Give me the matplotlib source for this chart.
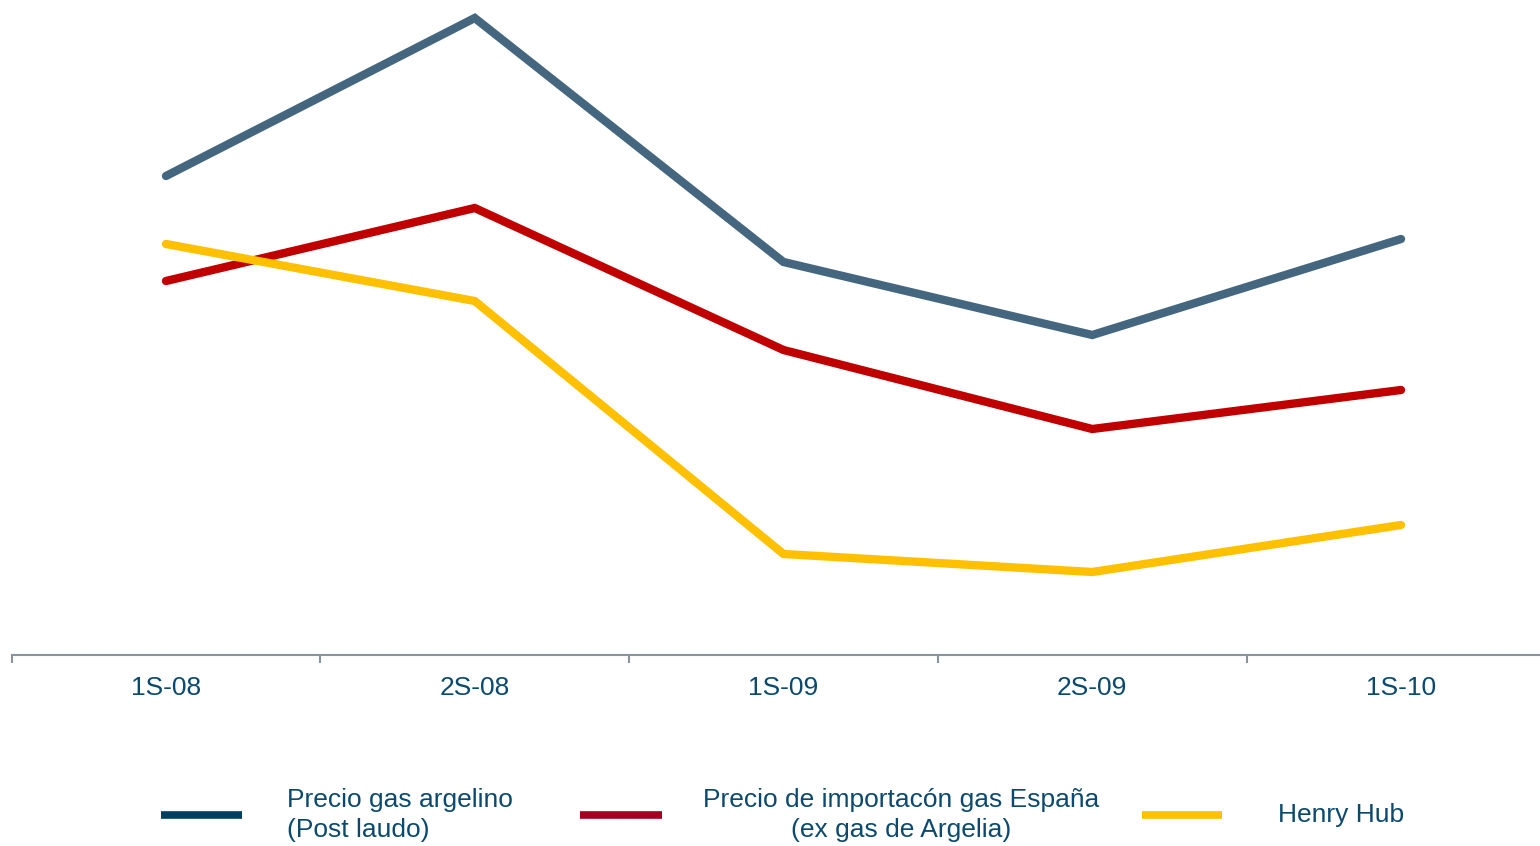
import matplotlib
matplotlib.use("Agg")
import matplotlib.pyplot as plt
from matplotlib.lines import Line2D
import numpy as np

categories = ["1S-08", "2S-08", "1S-09", "2S-09", "1S-10"]
argelino = [9.58, 12.74, 7.86, 6.40, 8.32]
espana = [7.48, 8.94, 6.10, 4.52, 5.30]
henry_hub = [8.22, 7.08, 2.02, 1.66, 2.60]

labels = ["Precio gas argelino\n(Post laudo)",
          "Precio de importacón gas España\n(ex gas de Argelia)",
          "Henry Hub"]

line_colors = ["#44667f", "#c00000", "#ffc000"]
legend_colors = ["#003f62", "#a50021", "#ffc000"]
text_color = "#0b4a6e"

plt.rcParams['font.family'] = ['Liberation Sans', 'DejaVu Sans']

W, H = 1540, 846
fig = plt.figure(figsize=(W / 100, H / 100), dpi=100)
left_px, right_px = 11.6, 1555.4
bottom_px, top_px = 655, 0
ax = fig.add_axes([left_px / W, (H - bottom_px) / H, (right_px - left_px) / W, (bottom_px - top_px) / H])

x = np.arange(len(categories))
for vals, c in zip([argelino, espana, henry_hub], line_colors):
    ax.plot(x, vals, color=c, lw=6.0, solid_capstyle='round', solid_joinstyle='miter', clip_on=False)

ax.set_xlim(-0.5, len(categories) - 0.5)
ax.set_ylim(0, 13.1)
for s in ['top', 'right', 'left']:
    ax.spines[s].set_visible(False)
ax.spines['bottom'].set_color('#8a929c')
ax.spines['bottom'].set_linewidth(1.5)
ax.set_yticks([])
ax.set_xticks(x)
ax.set_xticklabels(categories, fontsize=19, color=text_color)
ax.tick_params(axis='x', which='major', length=0, pad=15)
ax.set_xticks(np.arange(-0.5, len(categories)), minor=True)
ax.tick_params(axis='x', which='minor', length=6, width=1.5, color='#8a929c', direction='out')

# legend drawn manually in figure pixel coordinates
def fx(px):
    return px / W

def fy(py):
    return (H - py) / H

leg_lines = [(161, 242), (580, 662), (1142, 1222)]
for (x0, x1), c in zip(leg_lines, legend_colors):
    fig.add_artist(Line2D([fx(x0), fx(x1)], [fy(815), fy(815)], color=c, lw=5.5, solid_capstyle='butt'))

fig.text(fx(287), fy(815), labels[0], fontsize=19, color=text_color, ha='left', va='center', linespacing=1.32)
fig.text(fx(901), fy(815), labels[1], fontsize=19, color=text_color, ha='center', va='center', multialignment='center', linespacing=1.32)
fig.text(fx(1341), fy(815), labels[2], fontsize=19, color=text_color, ha='center', va='center')

fig.savefig("out.png", dpi=100)
